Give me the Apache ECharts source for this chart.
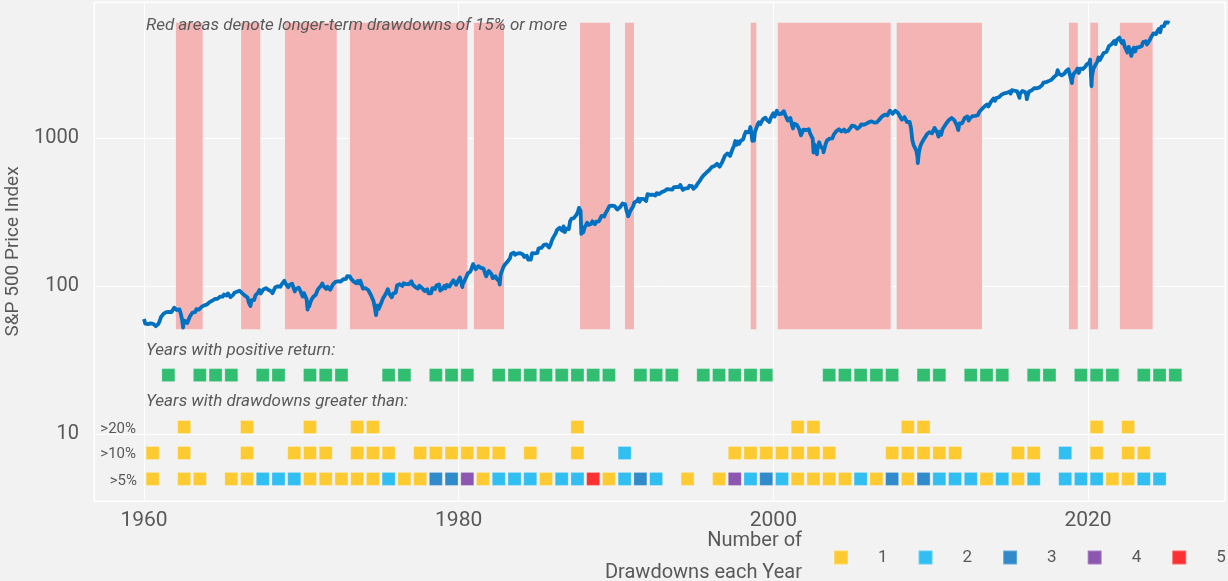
<!DOCTYPE html>
<html>
<head>
<meta charset="utf-8">
<title>S&P 500 drawdowns</title>
<script src="https://cdn.jsdelivr.net/npm/echarts@6/dist/echarts.min.js"></script>
<style>
  html, body { margin: 0; padding: 0; background: #f2f2f2; }
  #chart { width: 1228px; height: 581px; }
</style>
</head>
<body>
<div id="chart"></div>
<script>
// S&P 500 month-end closes, one array per decade
const spStart = 59.89; // close 31 Dec 1959
const sp1960s = [
  55.61, 56.12, 55.34, 54.37, 55.83, 56.92, 55.51, 56.96, 53.52, 53.39, 55.54, 58.11,
  61.78, 63.44, 65.06, 65.31, 66.56, 64.64, 66.76, 68.07, 66.73, 68.62, 71.32, 71.55,
  68.84, 69.96, 69.55, 65.24, 59.63, 54.75, 58.23, 59.12, 56.27, 56.52, 62.26, 63.10,
  66.20, 64.29, 66.57, 69.80, 70.80, 69.37, 69.13, 72.50, 71.70, 74.01, 73.23, 75.02,
  77.04, 77.80, 78.98, 79.46, 80.37, 81.69, 83.18, 81.83, 84.18, 84.86, 84.42, 84.75,
  87.56, 87.43, 86.16, 89.11, 88.42, 84.12, 85.25, 87.17, 89.96, 92.42, 91.61, 92.43,
  92.88, 91.22, 89.23, 91.06, 86.13, 84.74, 83.60, 77.10, 76.56, 80.20, 80.45, 80.33,
  86.61, 86.78, 90.20, 94.01, 89.08, 90.64, 94.75, 93.64, 96.71, 93.90, 94.00, 96.47,
  92.24, 89.36, 90.20, 97.59, 98.68, 99.58, 97.74, 98.86, 102.67, 103.41, 108.37, 103.86,
  103.01, 98.13, 101.51, 103.69, 103.46, 97.71, 91.83, 95.51, 93.12, 97.24, 93.81, 92.06
];
const sp1970s = [
  85.02, 89.50, 89.63, 81.52, 76.55, 72.72, 78.05, 81.52, 84.21, 83.25, 87.20, 92.15,
  95.88, 96.75, 100.31, 103.95, 99.63, 99.70, 95.58, 99.03, 98.34, 94.23, 93.99, 102.09,
  103.94, 106.57, 107.20, 107.67, 109.53, 107.14, 107.39, 111.09, 110.55, 111.58, 116.67, 118.05,
  116.03, 111.68, 111.52, 106.97, 104.95, 104.26, 108.22, 104.25, 108.43, 108.29, 95.96, 97.55,
  96.57, 96.22, 93.98, 90.31, 87.28, 86.00, 79.31, 72.15, 63.54, 73.90, 69.97, 68.56,
  76.98, 81.59, 83.36, 87.30, 91.15, 95.19, 88.75, 86.88, 83.87, 89.04, 91.24, 90.19,
  100.86, 99.71, 102.77, 101.64, 100.18, 104.28, 103.44, 102.91, 105.24, 102.90, 102.10, 107.46,
  102.03, 99.82, 98.42, 98.44, 96.12, 100.48, 98.85, 96.77, 96.53, 92.34, 94.83, 95.10,
  89.25, 87.04, 89.21, 96.83, 97.24, 95.53, 100.68, 103.29, 102.54, 93.15, 94.70, 96.11,
  99.93, 96.28, 101.59, 101.76, 99.08, 102.91, 103.81, 109.32, 109.32, 101.82, 106.16, 107.94
];
const sp1980s = [
  114.16, 113.66, 102.09, 106.29, 111.24, 114.24, 121.67, 122.38, 125.46, 127.47, 140.52, 135.76,
  129.55, 131.27, 136.00, 132.81, 132.59, 131.21, 130.92, 122.79, 116.18, 121.89, 126.35, 122.55,
  120.40, 113.11, 111.96, 116.44, 111.88, 109.61, 107.09, 119.51, 120.42, 133.71, 138.54, 140.64,
  145.30, 148.06, 152.96, 164.42, 162.39, 168.11, 162.56, 164.40, 166.07, 163.55, 166.40, 164.93,
  163.41, 157.06, 159.18, 160.05, 150.55, 153.18, 150.66, 166.68, 166.10, 166.09, 163.58, 167.24,
  179.63, 181.18, 180.66, 179.83, 189.55, 191.85, 190.92, 188.63, 182.08, 189.82, 202.17, 211.28,
  211.78, 226.92, 238.90, 235.52, 247.35, 250.84, 236.12, 252.93, 231.32, 243.98, 249.22, 242.17,
  274.08, 284.20, 291.70, 288.36, 290.10, 304.00, 318.66, 329.80, 321.83, 251.79, 230.30, 247.08,
  257.07, 267.82, 258.89, 261.33, 262.16, 273.50, 272.02, 261.52, 271.91, 278.97, 273.70, 277.72,
  297.47, 288.86, 294.87, 309.64, 320.52, 317.98, 346.08, 351.45, 349.15, 340.36, 345.99, 353.40
];
const sp1990s = [
  329.08, 331.89, 339.94, 330.80, 361.23, 358.02, 356.15, 322.56, 306.05, 304.00, 322.22, 330.22,
  343.93, 367.07, 375.22, 375.35, 389.83, 371.16, 387.81, 395.43, 387.86, 392.46, 375.22, 417.09,
  408.79, 412.70, 403.69, 414.95, 415.35, 408.14, 424.21, 414.03, 417.80, 418.68, 431.35, 435.71,
  438.78, 443.38, 451.67, 440.19, 450.19, 450.53, 448.13, 463.56, 458.93, 467.83, 461.79, 466.45,
  481.61, 467.14, 445.77, 450.91, 456.50, 444.27, 458.26, 475.49, 462.69, 472.35, 453.69, 459.27,
  470.42, 487.39, 500.71, 514.71, 533.40, 544.75, 562.06, 561.88, 584.41, 581.50, 605.37, 615.93,
  636.02, 640.43, 645.50, 654.17, 669.12, 670.63, 639.95, 651.99, 687.31, 705.27, 757.02, 740.74,
  786.16, 790.82, 757.12, 801.34, 848.28, 885.14, 954.29, 899.47, 947.28, 914.62, 955.40, 970.43,
  980.28, 1049.34, 1101.75, 1111.75, 1090.82, 1133.84, 1120.67, 957.28, 1017.01, 1098.67, 1163.63, 1229.23,
  1279.64, 1238.33, 1286.37, 1335.18, 1301.84, 1372.71, 1328.72, 1320.41, 1282.71, 1362.93, 1388.91, 1469.25
];
const sp2000s = [
  1394.46, 1366.42, 1498.58, 1452.43, 1420.60, 1454.60, 1430.83, 1517.68, 1436.51, 1429.40, 1314.95, 1320.28,
  1366.01, 1239.94, 1160.33, 1249.46, 1255.82, 1224.42, 1211.23, 1133.58, 1040.94, 1059.78, 1139.45, 1148.08,
  1130.20, 1106.73, 1147.39, 1076.92, 1067.14, 989.82, 911.62, 916.07, 815.28, 885.76, 936.31, 879.82,
  855.70, 841.15, 849.18, 916.92, 963.59, 974.50, 990.31, 1008.01, 995.97, 1050.71, 1058.20, 1111.92,
  1131.13, 1144.94, 1126.21, 1107.30, 1120.68, 1140.84, 1101.72, 1104.24, 1114.58, 1130.20, 1173.82, 1211.92,
  1181.27, 1203.60, 1180.59, 1156.85, 1191.50, 1191.33, 1234.18, 1220.33, 1228.81, 1207.01, 1249.48, 1248.29,
  1280.08, 1280.66, 1294.87, 1310.61, 1270.09, 1270.20, 1276.66, 1303.82, 1335.85, 1377.94, 1400.63, 1418.30,
  1438.24, 1406.82, 1420.86, 1482.37, 1530.62, 1503.35, 1455.27, 1473.99, 1526.75, 1549.38, 1481.14, 1468.36,
  1378.55, 1330.63, 1322.70, 1385.59, 1400.38, 1280.00, 1267.38, 1282.83, 1166.36, 968.75, 896.24, 903.25,
  825.88, 735.09, 797.87, 872.81, 919.14, 919.32, 987.48, 1020.62, 1057.08, 1036.19, 1095.63, 1115.10
];
const sp2010s = [
  1073.87, 1104.49, 1169.43, 1186.69, 1089.41, 1030.71, 1101.60, 1049.33, 1141.20, 1183.26, 1180.55, 1257.64,
  1286.12, 1327.22, 1325.83, 1363.61, 1345.20, 1320.64, 1292.28, 1218.89, 1131.42, 1253.30, 1246.96, 1257.60,
  1312.41, 1365.68, 1408.47, 1397.91, 1310.33, 1362.16, 1379.32, 1406.58, 1440.67, 1412.16, 1416.18, 1426.19,
  1498.11, 1514.68, 1569.19, 1597.57, 1630.74, 1606.28, 1685.73, 1632.97, 1681.55, 1756.54, 1805.81, 1848.36,
  1782.59, 1859.45, 1872.34, 1883.95, 1923.57, 1960.23, 1930.67, 2003.37, 1972.29, 2018.05, 2067.56, 2058.90,
  1994.99, 2104.50, 2067.89, 2085.51, 2107.39, 2063.11, 2103.84, 1972.18, 1920.03, 2079.36, 2080.41, 2043.94,
  1940.24, 1932.23, 2059.74, 2065.30, 2096.95, 2098.86, 2173.60, 2170.95, 2168.27, 2126.15, 2198.81, 2238.83,
  2278.87, 2363.64, 2362.72, 2384.20, 2411.80, 2423.41, 2470.30, 2471.65, 2519.36, 2575.26, 2647.58, 2673.61,
  2823.81, 2713.83, 2640.87, 2648.05, 2705.27, 2718.37, 2816.29, 2901.52, 2913.98, 2711.74, 2760.17, 2506.85,
  2704.10, 2784.49, 2834.40, 2945.83, 2752.06, 2941.76, 2980.38, 2926.46, 2976.74, 3037.56, 3140.98, 3230.78
];
const sp2020s = [
  3225.52, 2954.22, 2584.59, 2912.43, 3044.31, 3100.29, 3271.12, 3500.31, 3363.00, 3269.96, 3621.63, 3756.07,
  3714.24, 3811.15, 3972.89, 4181.17, 4204.11, 4297.50, 4395.26, 4522.68, 4307.54, 4605.38, 4567.00, 4766.18,
  4515.55, 4373.94, 4530.41, 4131.93, 4132.15, 3785.38, 4130.29, 3955.00, 3585.62, 3871.98, 4080.11, 3839.50,
  4076.60, 3970.15, 4109.31, 4169.48, 4179.83, 4450.38, 4588.96, 4507.66, 4288.05, 4193.80, 4567.80, 4769.83,
  4845.65, 5096.27, 5254.35, 5035.69, 5277.51, 5460.48, 5522.30, 5648.40, 5762.48, 5705.45, 6032.38, 5881.63,
  6040.53, 5954.50
];
// intra-month highs and lows that the month-end closes miss
const spExtremes = [
  ['1962-06-26', 52.32], ['1966-10-07', 73.20], ['1970-05-26', 69.29], ['1973-01-11', 120.24],
  ['1974-10-03', 62.28], ['1978-03-06', 86.90], ['1980-03-27', 98.22], ['1982-08-12', 102.42],
  ['1987-08-25', 336.77], ['1987-10-19', 224.84], ['1987-12-04', 223.92], ['1990-07-16', 368.95],
  ['1990-10-11', 295.46], ['1998-07-17', 1186.75], ['1998-10-08', 959.44], ['2000-03-24', 1527.46],
  ['2002-07-23', 797.70], ['2002-10-09', 776.76], ['2003-03-11', 800.73], ['2007-10-09', 1565.15],
  ['2009-03-09', 676.53], ['2010-07-02', 1022.58], ['2011-10-03', 1099.23], ['2015-08-25', 1867.61],
  ['2016-02-11', 1829.08], ['2018-01-26', 2872.87], ['2018-12-24', 2351.10], ['2020-02-19', 3386.15],
  ['2020-03-23', 2237.40], ['2022-01-03', 4796.56], ['2022-10-12', 3577.03], ['2024-08-05', 5186.33],
  ['2025-02-19', 6144.15]
];

// red shaded periods (fractional years)
const drawdownPeriods = [
  [1962.03, 1963.73], [1966.17, 1967.39], [1968.96, 1972.25], [1973.09, 1980.55],
  [1980.97, 1982.88], [1987.71, 1989.62], [1990.57, 1991.14], [1998.56, 1998.92],
  [2000.28, 2007.46], [2007.84, 2013.26], [2018.79, 2019.35], [2020.15, 2020.64],
  [2022.03, 2024.11]
];

const positiveYears = [
  1961, 1963, 1964, 1965, 1967, 1968, 1970, 1971, 1972, 1975, 1976, 1978, 1979, 1980,
  1982, 1983, 1984, 1985, 1986, 1987, 1988, 1989, 1991, 1992, 1993, 1995, 1996, 1997,
  1998, 1999, 2003, 2004, 2005, 2006, 2007, 2009, 2010, 2012, 2013, 2014, 2016, 2017,
  2019, 2020, 2021, 2023, 2024, 2025
];

// [year, number of drawdowns]
const dd20 = [
  [1962, 1], [1966, 1], [1970, 1], [1973, 1], [1974, 1], [1987, 1], [2001, 1], [2002, 1],
  [2008, 1], [2009, 1], [2020, 1], [2022, 1]
];
const dd10 = [
  [1960, 1], [1962, 1], [1966, 1], [1969, 1], [1970, 1], [1971, 1], [1973, 1], [1974, 1],
  [1975, 1], [1977, 1], [1978, 1], [1979, 1], [1980, 1], [1981, 1], [1982, 1], [1984, 1],
  [1987, 1], [1990, 2], [1997, 1], [1998, 1], [1999, 1], [2000, 1], [2001, 1], [2002, 1],
  [2003, 1], [2007, 1], [2008, 1], [2009, 1], [2010, 1], [2011, 1], [2015, 1], [2016, 1],
  [2018, 2], [2020, 1], [2022, 1], [2023, 1]
];
const dd5 = [
  [1960, 1], [1962, 1], [1963, 1], [1965, 1], [1966, 1], [1967, 2], [1968, 2], [1969, 2],
  [1970, 1], [1971, 1], [1972, 1], [1973, 1], [1974, 1], [1975, 2], [1976, 1], [1977, 1],
  [1978, 3], [1979, 3], [1980, 4], [1981, 1], [1982, 2], [1983, 2], [1984, 2], [1985, 1],
  [1986, 2], [1987, 2], [1988, 5], [1989, 1], [1990, 2], [1991, 3], [1992, 2], [1994, 1],
  [1996, 1], [1997, 4], [1998, 2], [1999, 3], [2000, 2], [2001, 1], [2002, 1], [2003, 1],
  [2004, 1], [2005, 2], [2006, 1], [2007, 3], [2008, 1], [2009, 3], [2010, 2], [2011, 2],
  [2012, 2], [2013, 1], [2014, 2], [2015, 1], [2016, 2], [2018, 2], [2019, 2], [2020, 2],
  [2021, 1], [2022, 1], [2023, 2], [2024, 2]
];
const countNames = ['1', '2', '3', '4', '5'];
const countColors = ['#ffc000', '#00b0f0', '#0070c0', '#7030a0', '#ff0000'];

// layout constants (y levels of the marker rows on the log axis)
const ROW_POS = 25, ROW_20 = 11.15, ROW_10 = 7.44, ROW_5 = 4.97;
const YEAR_OFFSET = 0.55;
const AREA_LOW = 51, AREA_HIGH = 6000;
const TEXT = '#595959';
const FONT = 'Roboto, "Noto Sans", sans-serif';

function dateToYear(s) {
  const d = new Date(s + 'T00:00:00Z');
  const y = d.getUTCFullYear();
  const start = Date.UTC(y, 0, 1);
  return y + (d - start) / (Date.UTC(y + 1, 0, 1) - start);
}

function buildPrice() {
  const pts = [[1960, spStart]];
  [[1960, sp1960s], [1970, sp1970s], [1980, sp1980s], [1990, sp1990s],
   [2000, sp2000s], [2010, sp2010s], [2020, sp2020s]].forEach(([y0, arr]) => {
    arr.forEach((v, i) => pts.push([y0 + (i + 1) / 12, v]));
  });
  spExtremes.forEach(([d, v]) => pts.push([dateToYear(d), v]));
  pts.sort((a, b) => a[0] - b[0]);
  return pts;
}

function renderChart() {
  const myChart = echarts.init(document.getElementById('chart'), null, { renderer: 'canvas' });

  const countSeries = countNames.map((name, k) => {
    const data = [];
    [[dd20, ROW_20], [dd10, ROW_10], [dd5, ROW_5]].forEach(([rows, level]) => {
      rows.forEach(([yr, c]) => { if (c === k + 1) data.push([yr + YEAR_OFFSET, level]); });
    });
    return {
      type: 'scatter',
      name: name,
      data: data,
      symbol: 'rect',
      symbolSize: 13,
      itemStyle: { color: countColors[k], borderColor: 'rgba(255,255,255,0.3)', borderWidth: 1 },
      z: 4,
      silent: true
    };
  });

  const txt = (left, top, text, font, extra) =>
    Object.assign({ type: 'text', z: 100, left: left, top: top, style: { text: text, font: font, fill: TEXT } }, extra || {});

  const option = {
    backgroundColor: '#f2f2f2',
    animation: false,
    textStyle: { fontFamily: FONT },
    grid: {
      left: 94, right: 3, top: 2, bottom: 80,
      outerBoundsMode: 'none',
      containLabel: false,
      show: true, backgroundColor: '#f2f2f2', borderColor: '#ffffff', borderWidth: 1
    },
    legend: {
      data: countNames,
      left: 833, top: 549, width: 420,
      padding: 0,
      icon: 'rect', itemWidth: 14, itemHeight: 14, itemGap: 30,
      textStyle: { color: TEXT, fontSize: 17, fontFamily: FONT, padding: [0, 0, 0, 25] },
      selectedMode: false
    },
    xAxis: {
      type: 'value',
      min: 1956.822, max: 2028.708,
      splitNumber: 4,
      axisLine: { show: false },
      axisTick: { show: false },
      splitLine: { lineStyle: { color: '#ffffff', width: 1 } },
      axisLabel: {
        color: TEXT, fontSize: 21, fontFamily: FONT, margin: 9,
        showMinLabel: false, showMaxLabel: false,
        formatter: v => (Math.abs(v % 20) < 1e-6 ? String(v) : '')
      }
    },
    yAxis: {
      type: 'log', logBase: 10,
      min: 3.526, max: 8297,
      name: 'S&P 500 Price Index',
      nameLocation: 'middle', nameGap: 71,
      nameTextStyle: { color: TEXT, fontSize: 19, fontFamily: FONT },
      axisLine: { show: false },
      axisTick: { show: false },
      splitLine: { lineStyle: { color: '#ffffff', width: 1 } },
      axisLabel: {
        color: TEXT, fontSize: 20, fontFamily: FONT, margin: 15,
        showMinLabel: false, showMaxLabel: false,
        formatter: v => {
          const l = Math.log10(v);
          return Math.abs(l - Math.round(l)) < 1e-6 ? String(Math.round(v)) : '';
        }
      }
    },
    graphic: [
      txt(146, 17, 'Red areas denote longer-term drawdowns of 15% or more', 'italic 17px ' + FONT),
      txt(146, 342, 'Years with positive return:', 'italic 17px ' + FONT),
      txt(146, 393, 'Years with drawdowns greater than:', 'italic 17px ' + FONT),
      txt(null, 422, '>20%', '15px ' + FONT, { right: 1228 - 136, left: undefined }),
      txt(null, 447, '>10%', '15px ' + FONT, { right: 1228 - 136, left: undefined }),
      txt(null, 474, '>5%', '15px ' + FONT, { right: 1228 - 137, left: undefined }),
      txt(null, 531, 'Number of', '20px ' + FONT, { right: 1228 - 802, left: undefined }),
      txt(null, 563, 'Drawdowns each Year', '20px ' + FONT, { right: 1228 - 802, left: undefined })
    ],
    series: [
      {
        type: 'line',
        name: 'areas',
        data: [],
        z: 1,
        silent: true,
        markArea: {
          silent: true,
          itemStyle: { color: '#f5b4b4' },
          data: drawdownPeriods.map(([a, b]) => [{ xAxis: a, yAxis: AREA_LOW }, { xAxis: b, yAxis: AREA_HIGH }])
        }
      },
      {
        type: 'line',
        name: 'S&P 500',
        data: buildPrice(),
        showSymbol: false,
        symbol: 'none',
        z: 3,
        lineStyle: { color: '#0070c0', width: 3.8, join: 'round' },
        silent: true
      },
      {
        type: 'scatter',
        name: 'positive',
        data: positiveYears.map(y => [y + YEAR_OFFSET, ROW_POS]),
        symbol: 'rect',
        symbolSize: 13,
        itemStyle: { color: '#00b050', borderColor: 'rgba(255,255,255,0.3)', borderWidth: 1 },
        z: 4,
        silent: true
      }
    ].concat(countSeries)
  };

  myChart.setOption(option);
}

renderChart();
</script>
</body>
</html>
